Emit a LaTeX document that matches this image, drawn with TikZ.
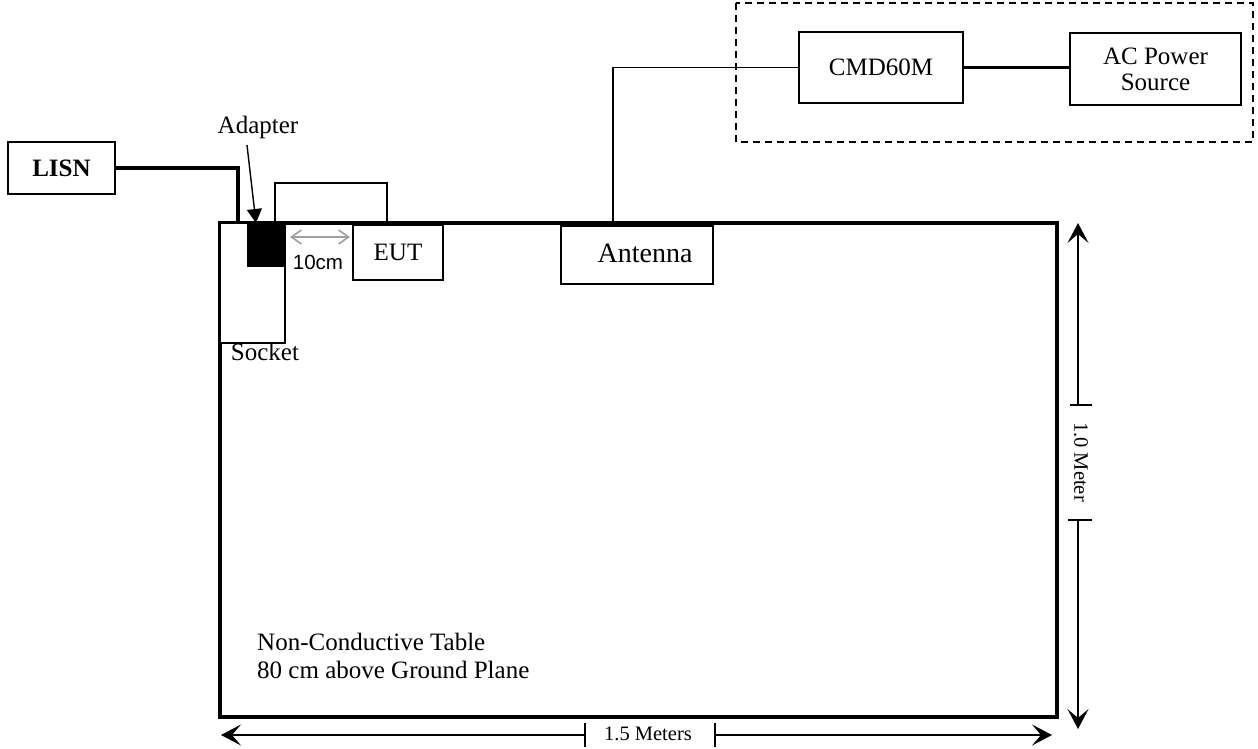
\documentclass[tikz,border=0pt]{standalone}
\usepackage{fontspec}
\setmainfont{Liberation Serif}
\newfontfamily\arialf{Liberation Sans}
\usetikzlibrary{arrows.meta}
\definecolor{dimgray}{RGB}{160,160,160}
\begin{document}
\begin{tikzpicture}[x=1pt,y=-1pt,
  box/.style={draw, line width=1.8pt, inner sep=0pt, align=center,
    font=\fontsize{25}{26}\selectfont},
  txt/.style={inner sep=0pt, font=\fontsize{25}{26}\selectfont},
  dimtxt/.style={inner sep=0pt, font=\fontsize{20.5}{22}\selectfont},
  thincable/.style={line width=1.6pt},
  thickcable/.style={line width=3.6pt},
  dimline/.style={line width=1.6pt},
  dimarrow/.style={line width=1.6pt, -{Stealth[length=20pt,width=21pt,inset=9pt]}},
]
\useasboundingbox (0,0) rectangle (1258,748);
\fill[white] (0,0) rectangle (1258,748);

% table
\node[draw, line width=3.2pt, minimum width=837pt, minimum height=494pt, inner sep=0pt] (table) at (638.5,470) {};

% socket and adapter
\node[draw, fill=white, line width=1.8pt, minimum width=65pt, minimum height=120pt, inner sep=0pt] (socket) at (252.5,283) {};
\node[draw, fill=black, line width=1pt, minimum width=38pt, minimum height=43pt, inner sep=0pt] (adapter) at (266,244.5) {};
\node[txt] (socketlbl) at (265,352) {Socket};
\node[txt] (adapterlbl) at (258,127) {Adapter};
\coordinate (adtail) at (247,145);
\coordinate (adtip) at (256,223);
\draw[line width=1.4pt, -{Triangle[length=14pt,width=15pt]}] (adtail) -- (adtip);

% LISN
\node[box, minimum width=107pt, minimum height=52pt] (lisn) at (61.5,168) {\bfseries LISN};
\coordinate (lisnin) at (238,223);
\draw[thickcable] (lisn.east) -| (lisnin);

% EUT
\node[box, minimum width=90pt, minimum height=55pt] (eut) at (398,252.5) {EUT};
\coordinate (eutc1) at (275,223);
\coordinate (eutc2) at (387,183);
\coordinate (eutc3) at (387,223);
\draw[thincable] (eutc1) |- (eutc2) -- (eutc3);

% 10cm
\coordinate (gA) at (290,237);
\coordinate (gB) at (350,237);
\draw[dimgray, line width=1.6pt, {Straight Barb[length=10pt,width=14pt]}-{Straight Barb[length=10pt,width=14pt]}] (gA) -- (gB);
\node[inner sep=0pt, font=\arialf\fontsize{20.5}{22}\selectfont] (tencm) at (318,262) {10cm};

% Antenna
\node[box, minimum width=152pt, minimum height=58pt] (ant) at (637,255) {};
\node[inner sep=0pt, font=\fontsize{28}{30}\selectfont] (antlbl) at (645,253) {Antenna};
\coordinate (antin) at (613,223);

% dashed group
\draw[line width=1.8pt, dash pattern=on 7pt off 5pt] (736,3) rectangle (1253,142);
\node[box, minimum width=164pt, minimum height=71pt] (cmd) at (881,67.5) {CMD60M};
\node[box, minimum width=171pt, minimum height=72pt] (ac) at (1155.5,69) {AC Power\\Source};
\draw[thincable] (cmd.west) -| (antin);
\draw[thickcable] (cmd.east) -- (cmd.east -| ac.west);

% table text
\node[txt, anchor=base west] (tt1) at (257,650) {Non-Conductive Table};
\node[txt, anchor=base west] (tt2) at (257,678) {80 cm above Ground Plane};

% vertical dimension
\coordinate (vt1) at (1078,405);
\coordinate (vt2) at (1078,520);
\coordinate (vtop) at (1078,223);
\coordinate (vbot) at (1078,729);
\draw[dimarrow] (vt1) -- (vtop);
\draw[dimarrow] (vt2) -- (vbot);
\draw[dimline] (1070,405) -- (1092,405);
\draw[dimline] (1068,520) -- (1092,520);
\node[dimtxt, rotate=-90] (vlbl) at (1081,462) {1.0 Meter};

% horizontal dimension
\coordinate (ht1) at (585,735);
\coordinate (ht2) at (715,735);
\coordinate (hleft) at (221,735);
\coordinate (hright) at (1052,735);
\draw[dimarrow] (ht1) -- (hleft);
\draw[dimarrow] (ht2) -- (hright);
\draw[dimline] (585,723) -- (585,747);
\draw[dimline] (715,723) -- (715,747);
\node[dimtxt] (hlbl) at (648,734) {1.5 Meters};
\end{tikzpicture}
\end{document}
